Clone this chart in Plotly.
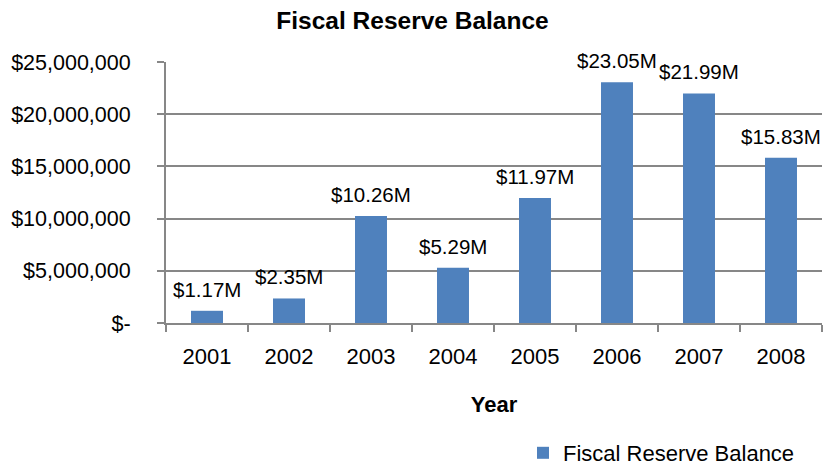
import plotly.graph_objects as go

years = ["2001", "2002", "2003", "2004", "2005", "2006", "2007", "2008"]
balance_m = [1.17, 2.35, 10.26, 5.29, 11.97, 23.05, 21.99, 15.83]
y_tickvals = [0, 5e6, 10e6, 15e6, 20e6, 25e6]
y_ticktext = ["$-", "$5,000,000", "$10,000,000", "$15,000,000", "$20,000,000", "$25,000,000"]

values = [v * 1e6 for v in balance_m]
labels = [f"${v:.2f}M" for v in balance_m]

FONT = "Liberation Sans, Arial, sans-serif"
GRAY = "#878787"

fig = go.Figure()
fig.add_trace(go.Bar(
    x=years, y=values, name="Fiscal Reserve Balance",
    marker=dict(color="#4F81BD", line=dict(width=0)),
    width=0.39,
))

for i, (v, t) in enumerate(zip(values, labels)):
    fig.add_annotation(x=i, y=v, text=t, showarrow=False, xref="x", yref="y",
                       yanchor="bottom", yshift=8,
                       font=dict(family=FONT, size=20.5, color="#000"))

fig.update_layout(
    width=825, height=466,
    margin=dict(l=166, r=3, t=62, b=143, autoexpand=False),
    paper_bgcolor="white", plot_bgcolor="white",
    font=dict(family=FONT, size=20, color="#000"),
    title=dict(text="<b>Fiscal Reserve Balance</b>", x=0.5, xref="container",
               xanchor="center", y=1 - 20 / 466, yref="container", yanchor="middle",
               font=dict(family=FONT, size=24.5, color="#000")),
    showlegend=True,
    legend=dict(x=523 / 825, xref="container", xanchor="left",
                y=1 - 453 / 466, yref="container", yanchor="middle",
                font=dict(family=FONT, size=22, color="#000"),
                bgcolor="rgba(0,0,0,0)", itemwidth=30),
    xaxis=dict(
        type="category", categoryorder="array", categoryarray=years,
        range=[-0.5, len(years) - 0.5], autorange=False, automargin=False,
        showgrid=False, showline=True, linecolor=GRAY, linewidth=2,
        ticks="outside", tickson="boundaries", ticklen=7, tickwidth=2, tickcolor=GRAY,
        tickfont=dict(family=FONT, size=22, color="#000"), tickangle=0,
        ticklabelstandoff=13,
        title=dict(text="<b>Year</b>", font=dict(family=FONT, size=22, color="#000"),
                   standoff=28),
    ),
    yaxis=dict(
        range=[0, 25e6], autorange=False, automargin=False,
        tickvals=y_tickvals, ticktext=y_ticktext,
        showgrid=True, gridcolor=GRAY, gridwidth=2,
        showline=True, linecolor=GRAY, linewidth=2, zeroline=False,
        ticks="outside", ticklen=7, tickwidth=2, tickcolor=GRAY,
        tickfont=dict(family=FONT, size=21.5, color="#000"),
        ticklabelstandoff=22,
    ),
)

fig.write_html("out.html")
